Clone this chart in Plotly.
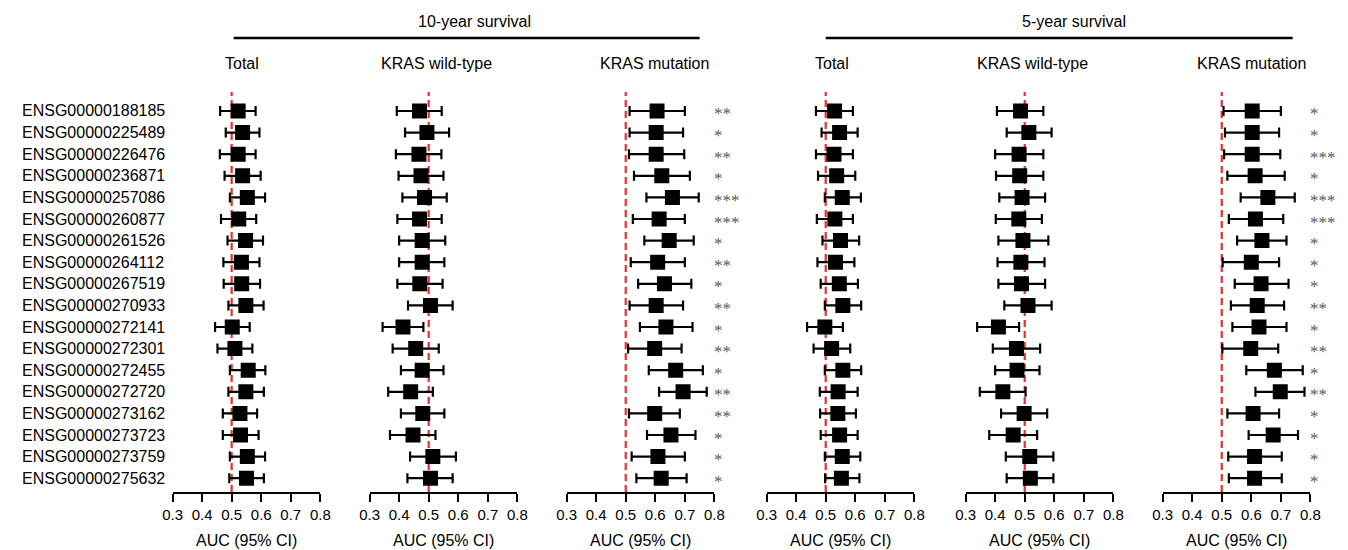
import plotly.graph_objects as go

genes = ["ENSG00000188185", "ENSG00000225489", "ENSG00000226476", "ENSG00000236871",
         "ENSG00000257086", "ENSG00000260877", "ENSG00000261526", "ENSG00000264112",
         "ENSG00000267519", "ENSG00000270933", "ENSG00000272141", "ENSG00000272301",
         "ENSG00000272455", "ENSG00000272720", "ENSG00000273162", "ENSG00000273723",
         "ENSG00000273759", "ENSG00000275632"]

group_titles = ["10-year survival", "5-year survival"]
panel_titles = ["Total", "KRAS wild-type", "KRAS mutation",
                "Total", "KRAS wild-type", "KRAS mutation"]

auc_10_total = [0.522, 0.537, 0.522, 0.537, 0.553, 0.524, 0.547, 0.533, 0.534, 0.548, 0.502, 0.511, 0.556, 0.548, 0.528, 0.530, 0.553, 0.550]
lo_10_total = [0.461, 0.480, 0.460, 0.476, 0.494, 0.464, 0.486, 0.472, 0.473, 0.489, 0.444, 0.452, 0.494, 0.489, 0.470, 0.470, 0.494, 0.492]
hi_10_total = [0.581, 0.594, 0.581, 0.598, 0.613, 0.583, 0.606, 0.594, 0.596, 0.608, 0.561, 0.570, 0.614, 0.609, 0.586, 0.591, 0.613, 0.609]

auc_10_wt = [0.469, 0.494, 0.467, 0.474, 0.486, 0.469, 0.478, 0.478, 0.470, 0.506, 0.413, 0.456, 0.478, 0.439, 0.480, 0.447, 0.514, 0.506]
lo_10_wt = [0.392, 0.420, 0.389, 0.398, 0.411, 0.394, 0.400, 0.400, 0.394, 0.430, 0.344, 0.378, 0.406, 0.363, 0.406, 0.369, 0.437, 0.428]
hi_10_wt = [0.544, 0.569, 0.543, 0.550, 0.561, 0.544, 0.556, 0.553, 0.547, 0.581, 0.482, 0.534, 0.550, 0.514, 0.553, 0.523, 0.592, 0.581]

auc_10_mut = [0.606, 0.603, 0.603, 0.622, 0.658, 0.613, 0.647, 0.608, 0.631, 0.603, 0.636, 0.598, 0.669, 0.694, 0.598, 0.653, 0.609, 0.620]
lo_10_mut = [0.513, 0.513, 0.511, 0.528, 0.570, 0.524, 0.563, 0.517, 0.542, 0.513, 0.548, 0.508, 0.578, 0.613, 0.511, 0.572, 0.520, 0.536]
hi_10_mut = [0.700, 0.694, 0.698, 0.717, 0.747, 0.700, 0.730, 0.700, 0.722, 0.694, 0.726, 0.689, 0.761, 0.774, 0.683, 0.736, 0.700, 0.706]
sig_10_mut = ["**", "*", "**", "*", "***", "***", "*", "**", "*", "**", "*", "**", "*", "**", "**", "*", "*", "*"]

auc_5_total = [0.530, 0.547, 0.528, 0.537, 0.556, 0.531, 0.550, 0.533, 0.546, 0.558, 0.497, 0.520, 0.558, 0.542, 0.541, 0.547, 0.556, 0.553]
lo_5_total = [0.467, 0.486, 0.467, 0.474, 0.497, 0.470, 0.489, 0.472, 0.483, 0.497, 0.437, 0.459, 0.497, 0.480, 0.481, 0.483, 0.497, 0.498]
hi_5_total = [0.592, 0.608, 0.592, 0.600, 0.619, 0.592, 0.613, 0.597, 0.609, 0.620, 0.558, 0.583, 0.620, 0.608, 0.602, 0.608, 0.617, 0.614]

auc_5_wt = [0.486, 0.514, 0.481, 0.483, 0.491, 0.480, 0.494, 0.487, 0.489, 0.511, 0.411, 0.472, 0.474, 0.426, 0.498, 0.461, 0.517, 0.519]
lo_5_wt = [0.406, 0.439, 0.400, 0.403, 0.414, 0.402, 0.411, 0.408, 0.411, 0.431, 0.339, 0.392, 0.400, 0.348, 0.420, 0.380, 0.436, 0.439]
hi_5_wt = [0.563, 0.591, 0.563, 0.563, 0.569, 0.558, 0.580, 0.567, 0.569, 0.591, 0.481, 0.552, 0.550, 0.503, 0.576, 0.542, 0.597, 0.597]

auc_5_mut = [0.603, 0.603, 0.603, 0.613, 0.656, 0.614, 0.636, 0.600, 0.633, 0.620, 0.626, 0.598, 0.678, 0.698, 0.606, 0.674, 0.611, 0.611]
lo_5_mut = [0.506, 0.511, 0.508, 0.519, 0.564, 0.524, 0.552, 0.503, 0.544, 0.531, 0.536, 0.502, 0.583, 0.614, 0.519, 0.591, 0.522, 0.524]
hi_5_mut = [0.700, 0.694, 0.698, 0.713, 0.747, 0.708, 0.719, 0.694, 0.726, 0.711, 0.719, 0.691, 0.774, 0.780, 0.694, 0.758, 0.703, 0.703]
sig_5_mut = ["*", "*", "***", "*", "***", "***", "*", "*", "*", "**", "*", "**", "*", "**", "*", "*", "*", "*"]

x_ticks = [0.3, 0.4, 0.5, 0.6, 0.7, 0.8]
x_title = "AUC (95% CI)"

panels = [
    (auc_10_total, lo_10_total, hi_10_total, None),
    (auc_10_wt, lo_10_wt, hi_10_wt, None),
    (auc_10_mut, lo_10_mut, hi_10_mut, sig_10_mut),
    (auc_5_total, lo_5_total, hi_5_total, None),
    (auc_5_wt, lo_5_wt, hi_5_wt, None),
    (auc_5_mut, lo_5_mut, hi_5_mut, sig_5_mut),
]

W, H = 1348, 550
FONT = "Liberation Sans, Arial, Helvetica, sans-serif"
panel_px = [(165, 315), (365, 515), (565, 715), (768, 918), (970, 1120), (1170, 1320)]
header_cx = [236, 433, 654, 834, 1038, 1260]
row0, row_step = 111.0, 21.6
top_px, axis_px = 92.0, 492.0
y_top = (top_px - row0) / row_step
y_bot = (axis_px - row0) / row_step
ydom = [1 - axis_px / H, 1 - top_px / H]

fig = go.Figure()
annotations = []
shapes = []

for i, (auc, lo, hi, sig) in enumerate(panels):
    k = "" if i == 0 else str(i + 1)
    fig.add_trace(go.Scatter(
        x=auc, y=genes, mode="markers",
        marker=dict(symbol="square", size=15, color="black"),
        error_x=dict(type="data", symmetric=False,
                     array=[h - a for h, a in zip(hi, auc)],
                     arrayminus=[a - l for a, l in zip(auc, lo)],
                     color="black", thickness=2.2, width=5),
        xaxis="x" + k, yaxis="y" + k, showlegend=False, hoverinfo="skip"))
    x0, x1 = panel_px[i]
    fig.update_layout(**{
        "xaxis" + k: dict(domain=[x0 / W, x1 / W], range=[0.3, 0.8], tickvals=x_ticks,
                          ticktext=[f"{t:.1f}" for t in x_ticks],
                          showline=True, linecolor="black", linewidth=2.2,
                          ticks="outside", ticklen=8, tickwidth=2.2, tickcolor="black",
                          showgrid=False, zeroline=False, anchor="y" + k,
                          tickfont=dict(size=15, color="black", family=FONT), fixedrange=True),
        "yaxis" + k: dict(domain=ydom, type="category", categoryarray=genes,
                          range=[y_bot, y_top], visible=False, anchor="x" + k,
                          fixedrange=True),
    })
    shapes.append(dict(type="line", xref="x" + k, yref="y" + k + " domain",
                       x0=0.5, x1=0.5, y0=0, y1=1, layer="below",
                       line=dict(color="#ee2b2b", width=2.2, dash="7px,4px")))
    annotations.append(dict(text=panel_titles[i], xref="paper", yref="paper",
                            x=header_cx[i] / W, y=1 - 64 / H, showarrow=False,
                            xanchor="center", yanchor="middle",
                            font=dict(size=16, color="black", family=FONT)))
    annotations.append(dict(text=x_title, xref="paper", yref="paper",
                            x=(x0 + x1) / 2 / W, y=1 - 540 / H, showarrow=False,
                            xanchor="center", yanchor="middle",
                            font=dict(size=16, color="black", family=FONT)))
    if sig is not None:
        for g, s in zip(genes, sig):
            annotations.append(dict(text=s, xref="x" + k, yref="y" + k, x=0.793, y=g,
                                    showarrow=False, xanchor="left", yanchor="middle",
                                    yshift=-3,
                                    font=dict(size=17, color="#5a5a5a",
                                              family="Liberation Serif, Times New Roman, serif")))

for g in genes:
    annotations.append(dict(text=g, xref="paper", yref="y", x=10 / W, y=g,
                            showarrow=False, xanchor="left", yanchor="middle",
                            font=dict(size=16, color="black", family=FONT)))

groups = [(group_titles[0], 472, 227, 700), (group_titles[1], 1080, 828, 1302)]
for t, cx, lx0, lx1 in groups:
    annotations.append(dict(text=t, xref="paper", yref="paper", x=cx / W, y=1 - 21 / H,
                            showarrow=False, xanchor="center", yanchor="middle",
                            font=dict(size=16, color="black", family=FONT)))
    shapes.append(dict(type="line", xref="paper", yref="paper",
                       x0=lx0 / W, x1=lx1 / W, y0=1 - 38 / H, y1=1 - 38 / H,
                       line=dict(color="black", width=2.5)))

fig.update_layout(width=W, height=H, margin=dict(l=0, r=0, t=0, b=0),
                  paper_bgcolor="white", plot_bgcolor="white",
                  annotations=annotations, shapes=shapes,
                  font=dict(family=FONT, color="black"))

fig.write_html("out.html", config={"displayModeBar": False},
               post_script="document.body.style.margin='0';document.body.style.overflow='hidden';")
